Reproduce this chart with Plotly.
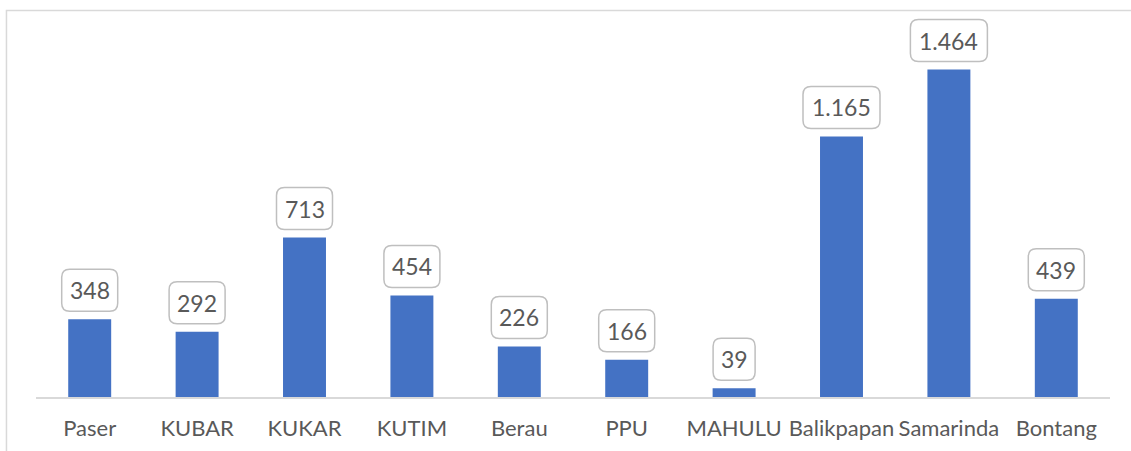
import plotly.graph_objects as go

# Data
kabupaten = ["Paser", "KUBAR", "KUKAR", "KUTIM", "Berau", "PPU", "MAHULU",
             "Balikpapan", "Samarinda", "Bontang"]
jumlah = [348, 292, 713, 454, 226, 166, 39, 1165, 1464, 439]

BAR_COLOR = "#4472C4"
TEXT_COLOR = "#595959"
GRID_COLOR = "#d9d9d9"
FONT = "Lato"


def fmt_id(v):
    # Indonesian thousands separator
    return f"{v:,}".replace(",", ".")


fig = go.Figure(
    go.Bar(
        x=kabupaten,
        y=jumlah,
        marker=dict(color=BAR_COLOR, line=dict(width=0)),
        hoverinfo="x+y",
    )
)


def rounded_box(w, h, bottom, r):
    # rounded rectangle path in pixels, centred horizontally on the anchor
    x0, x1 = -w / 2, w / 2
    y0, y1 = bottom, bottom + h
    return (
        f"M {x0 + r},{y0} L {x1 - r},{y0} Q {x1},{y0} {x1},{y0 + r} "
        f"L {x1},{y1 - r} Q {x1},{y1} {x1 - r},{y1} "
        f"L {x0 + r},{y1} Q {x0},{y1} {x0},{y1 - r} "
        f"L {x0},{y0 + r} Q {x0},{y0} {x0 + r},{y0} Z"
    )


shapes = []
annotations = []
for i, (name, v) in enumerate(zip(kabupaten, jumlah)):
    label = fmt_id(v)
    n_dig = sum(c.isdigit() for c in label)
    n_dot = label.count(".")
    w = 14 * n_dig + 7 * n_dot + 14
    shapes.append(dict(
        type="path", xref="x", yref="y",
        xsizemode="pixel", ysizemode="pixel",
        xanchor=i, yanchor=v,
        path=rounded_box(w, 42, 8, 8),
        line=dict(color="#bfbfbf", width=1.5),
        fillcolor="white",
        layer="above",
    ))
    annotations.append(dict(
        x=name, y=v, xref="x", yref="y",
        text=label, showarrow=False,
        yshift=29, yanchor="middle", xanchor="center",
        font=dict(family=FONT, size=23, color=TEXT_COLOR),
    ))

# outer chart frame
shapes.append(dict(
    type="rect", xref="paper", yref="paper",
    x0=-0.0275, x1=1.03, y0=-0.2, y1=1.0118,
    line=dict(color=GRID_COLOR, width=1.5),
    fillcolor="rgba(0,0,0,0)", layer="below",
))

fig.update_layout(
    width=1131, height=451,
    margin=dict(l=36, r=21, t=15, b=54, autoexpand=False),
    paper_bgcolor="white", plot_bgcolor="white",
    bargap=0.6,
    showlegend=False,
    shapes=shapes,
    annotations=annotations,
    font=dict(family=FONT, color=TEXT_COLOR),
    xaxis=dict(
        showline=True, linecolor=GRID_COLOR, linewidth=1.5,
        showgrid=False, ticks="",
        tickfont=dict(family=FONT, size=22, color=TEXT_COLOR),
        ticklabelstandoff=11,
        automargin=False,
        fixedrange=True,
    ),
    yaxis=dict(
        range=[0, 1708], visible=False, showgrid=False,
        zeroline=False, fixedrange=True, automargin=False,
    ),
)

fig.write_html("out.html")
